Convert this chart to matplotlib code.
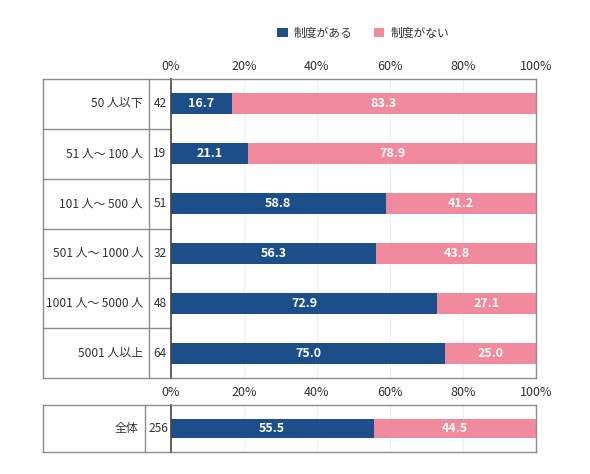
import matplotlib
matplotlib.use("Agg")
import matplotlib.pyplot as plt
from matplotlib.patches import Patch
from matplotlib.transforms import blended_transform_factory

plt.rcParams["font.family"] = ["Noto Sans CJK JP", "DejaVu Sans"]

categories = ["50 人以下", "51 人～ 100 人", "101 人～ 500 人",
              "501 人～ 1000 人", "1001 人～ 5000 人", "5001 人以上"]
counts = [42, 19, 51, 32, 48, 64]
have = [16.7, 21.1, 58.8, 56.3, 72.9, 75.0]
have_not = [83.3, 78.9, 41.2, 43.8, 27.1, 25.0]

total_label = "全体"
total_count = 256
total_have = 55.5
total_have_not = 44.5

series_names = ["制度がある", "制度がない"]
ticks = [0, 20, 40, 60, 80, 100]
tick_labels = [f"{t}%" for t in ticks]

BLUE = "#1c4f8a"
PINK = "#f08a9c"
EDGE = "#8c8c8c"
TEXT = "#333333"

W, H = 590, 474
fig = plt.figure(figsize=(W / 100, H / 100), dpi=100)


def fx(px):
    return px / W


def fy(py):
    return 1 - py / H


def draw_block(ax, labels, ns, a_vals, b_vals, box_left, count_sep, label_right, count_x):
    n = len(labels)
    ys = list(range(n))
    ax.barh(ys, a_vals, height=0.42, color=BLUE)
    ax.barh(ys, b_vals, left=a_vals, height=0.42, color=PINK)
    for y, a, b in zip(ys, a_vals, b_vals):
        ax.text(a / 2, y, f"{a:.1f}", ha="center", va="center", color="white",
                fontsize=9, fontweight="bold")
        ax.text(a + b / 2, y, f"{b:.1f}", ha="center", va="center", color="white",
                fontsize=9, fontweight="bold")
    ax.set_xlim(0, 100)
    ax.set_ylim(n - 0.5, -0.5)
    ax.set_yticks([])
    ax.set_xticks(ticks)
    ax.set_xticklabels(tick_labels, fontsize=9, color=TEXT)
    ax.xaxis.tick_top()
    ax.tick_params(axis="x", length=0, pad=4)
    ax.grid(axis="x", color="#eeeeee", linewidth=0.8)
    ax.set_axisbelow(True)
    for side in ["top", "bottom", "right"]:
        ax.spines[side].set_color(EDGE)
        ax.spines[side].set_linewidth(1)
    ax.spines["left"].set_color("#444444")
    ax.spines["left"].set_linewidth(1.2)

    # table columns on the left of the axes
    tr = blended_transform_factory(fig.transFigure, ax.transData)
    x0 = fx(box_left)
    x1 = ax.get_position().x0
    ax.plot([x0, x1], [-0.5, -0.5], transform=tr, color=EDGE, lw=1, clip_on=False)
    ax.plot([x0, x1], [n - 0.5, n - 0.5], transform=tr, color=EDGE, lw=1, clip_on=False)
    ax.plot([x0, x0], [-0.5, n - 0.5], transform=tr, color=EDGE, lw=1, clip_on=False)
    ax.plot([fx(count_sep)] * 2, [-0.5, n - 0.5], transform=tr, color=EDGE, lw=1, clip_on=False)
    for k in range(1, n):
        ax.plot([x0, x1], [k - 0.5, k - 0.5], transform=tr, color=EDGE, lw=1, clip_on=False)
    for y, lab, c in zip(ys, labels, ns):
        ax.text(fx(label_right), y, lab, transform=tr, ha="right", va="center",
                fontsize=8.6, color=TEXT)
        ax.text(fx(count_x), y, str(c), transform=tr, ha="center", va="center",
                fontsize=8.6, color=TEXT)


ax_top = fig.add_axes([fx(171), fy(378), fx(536) - fx(171), fy(79) - fy(378)])
draw_block(ax_top, categories, counts, have, have_not, 43, 149, 143, 160)

ax_all = fig.add_axes([fx(171), fy(452), fx(536) - fx(171), fy(405) - fy(452)])
draw_block(ax_all, [total_label], [total_count], [total_have], [total_have_not],
           43, 145, 138, 158)

handles = [Patch(facecolor=BLUE, edgecolor="none"), Patch(facecolor=PINK, edgecolor="none")]
fig.legend(handles, series_names, loc="center", bbox_to_anchor=(fx(363), fy(33)),
           ncol=2, frameon=False, fontsize=8.5, handlelength=0.9, handleheight=0.9,
           columnspacing=1.8, handletextpad=0.5, labelcolor=TEXT)

fig.savefig("out.png", dpi=100)
